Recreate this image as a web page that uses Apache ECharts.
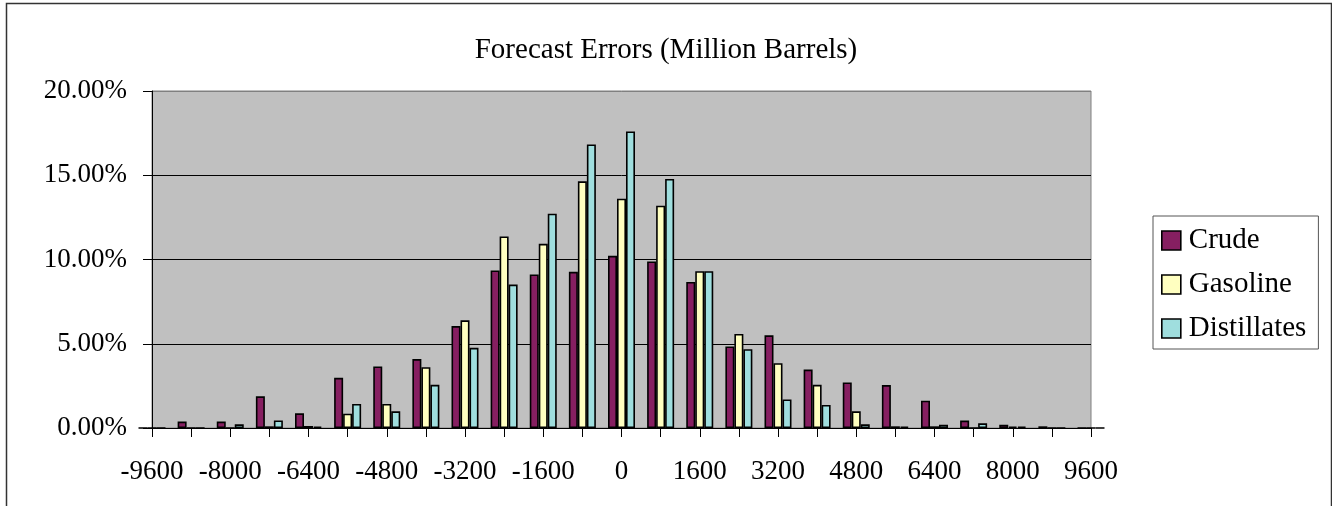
<!DOCTYPE html>
<html>
<head>
<meta charset="utf-8">
<script src="https://cdn.jsdelivr.net/npm/echarts@6/dist/echarts.min.js"></script>
<style>
html,body{margin:0;padding:0;background:#fff;}
#chart{width:1332px;height:506px;}
</style>
</head>
<body>
<div id="chart"></div>
<script>
const categories = ['-9600','-8800','-8000','-7200','-6400','-5600','-4800','-4000','-3200','-2400','-1600','-800','0','800','1600','2400','3200','4000','4800','5600','6400','7200','8000','8800','9600'];
const crude      = [0, 0.38, 0.38, 1.88, 0.87, 2.98, 3.65, 4.09, 6.05, 9.35, 9.11, 9.27, 10.22, 9.88, 8.67, 4.84, 5.50, 3.47, 2.70, 2.55, 1.62, 0.44, 0.20, 0.10, 0];
const gasoline   = [0, 0, 0, 0.10, 0.12, 0.85, 1.43, 3.61, 6.39, 11.37, 10.93, 14.64, 13.61, 13.19, 9.31, 5.58, 3.85, 2.56, 0.99, 0.10, 0.10, 0, 0.08, 0, 0];
const distillates= [0, 0, 0.22, 0.45, 0.08, 1.43, 0.99, 2.56, 4.76, 8.51, 12.72, 16.83, 17.60, 14.78, 9.31, 4.68, 1.69, 1.37, 0.22, 0.08, 0.20, 0.28, 0.08, 0, 0];
const seriesNames = ['Crude','Gasoline','Distillates'];
const yTicks = [0, 5, 10, 15, 20];

const FONT = "'Liberation Serif','Times New Roman',serif";
const colors = ['#861F61', '#FFFFC0', '#9FDEDE'];

const chart = echarts.init(document.getElementById('chart'), null, {renderer:'canvas'});
const mk = (name, data, i) => ({
  name, type:'bar', data,
  barGap:'0%', barCategoryGap:'31%',
  clip:true,
  itemStyle:{color:colors[i], borderColor:'#000', borderWidth:1.6},
  emphasis:{disabled:true},
  animation:false
});
chart.setOption({
  animation:false,
  backgroundColor:'#fff',
  textStyle:{fontFamily:FONT},
  title:{
    text:'Forecast Errors (Million Barrels)',
    left:'center', top:31,
    textStyle:{fontFamily:FONT, fontSize:29, fontWeight:'normal', color:'#000'}
  },
  legend:{
    orient:'vertical', left:1153, top:216,
    data:seriesNames,
    icon:'rect', itemWidth:19, itemHeight:19, itemGap:15,
    padding:[10,12,6,8],
    borderColor:'#555', borderWidth:1,
    backgroundColor:'#fff',
    textStyle:{fontFamily:FONT, fontSize:29, color:'#000', padding:[0,0,0,3]},
    itemStyle:{borderColor:'#000', borderWidth:1.6}
  },
  grid:{
    left:152, right:241, top:91, bottom:78,
    show:true, backgroundColor:'#C0C0C0', borderColor:'#808080', borderWidth:1
  },
  xAxis:{
    type:'category', data:categories, boundaryGap:false,
    axisLine:{lineStyle:{color:'#000', width:1}},
    axisTick:{show:true, interval:0, length:9, lineStyle:{color:'#000'}},
    axisLabel:{interval:1, margin:30, fontFamily:FONT, fontSize:27, color:'#000'},
    splitLine:{show:false}
  },
  yAxis:{
    type:'value', min:yTicks[0], max:yTicks[yTicks.length-1], interval:5,
    axisLine:{show:true, lineStyle:{color:'#000', width:1}},
    axisTick:{show:true, length:9, lineStyle:{color:'#000'}},
    axisLabel:{margin:25, fontFamily:FONT, fontSize:27, color:'#000',
      formatter:v=>v.toFixed(2)+'%'},
    splitLine:{show:true, lineStyle:{color:['#000','#000','#000','#000','#808080'], width:1}}
  },
  series:[mk(seriesNames[0], crude, 0), mk(seriesNames[1], gasoline, 1), mk(seriesNames[2], distillates, 2)],
  graphic:[{
    type:'rect', silent:true, z:-10,
    shape:{x:6.5, y:3.5, width:1325, height:560},
    style:{fill:'none', stroke:'#333', lineWidth:1.5}
  }]
});
</script>
</body>
</html>
